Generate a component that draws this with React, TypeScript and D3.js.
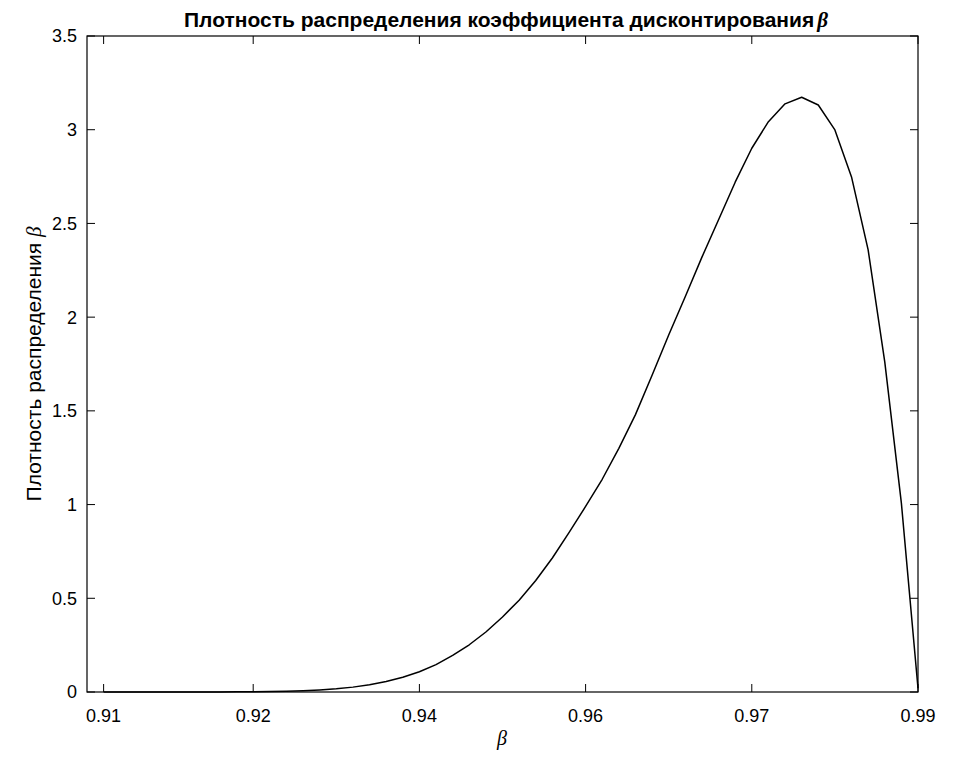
import React from "react";
import * as d3 from "d3";

const betaValues: number[] = [
  0.908333, 0.91, 0.911667, 0.913333, 0.915, 0.916667, 0.918333, 0.92, 0.921667, 0.923333,
  0.925, 0.926667, 0.928333, 0.93, 0.931667, 0.933333, 0.935, 0.936667, 0.938333, 0.94,
  0.941667, 0.943333, 0.945, 0.946667, 0.948333, 0.95, 0.951667, 0.953333, 0.955, 0.956667,
  0.958333, 0.96, 0.961667, 0.963333, 0.965, 0.966667, 0.968333, 0.97, 0.971667, 0.973333,
  0.975, 0.976667, 0.978333, 0.98, 0.981667, 0.983333, 0.985, 0.986667, 0.988333, 0.99,
];

const densityValues: number[] = [
  0.0, 0.0, 0.0, 0.0001, 0.0001, 0.0001, 0.0002, 0.0004, 0.0008, 0.0014,
  0.0025, 0.0042, 0.0068, 0.011, 0.017, 0.026, 0.039, 0.056, 0.079, 0.108,
  0.146, 0.195, 0.252, 0.32, 0.4, 0.49, 0.595, 0.715, 0.85, 0.99,
  1.135, 1.3, 1.48, 1.69, 1.905, 2.11, 2.32, 2.52, 2.72, 2.901,
  3.043, 3.138, 3.173, 3.132, 2.999, 2.748, 2.359, 1.761, 1.008, 0.02,
];

const xTickValues: number[] = [0.908333, 0.923333, 0.94, 0.956667, 0.973333, 0.99];
const yTickValues: number[] = [0, 0.5, 1, 1.5, 2, 2.5, 3, 3.5];
const xDomain: [number, number] = [0.906667, 0.99];
const yDomain: [number, number] = [0, 3.5];

const titleText = "Плотность распределения коэффициента дисконтирования";
const yLabelText = "Плотность распределения ";
const greekBeta = "β";

const W = 954;
const H = 757;
const M = { left: 87, right: 36, top: 36, bottom: 65 };

export default function App() {
  const x = d3.scaleLinear().domain(xDomain).range([M.left, W - M.right]);
  const y = d3.scaleLinear().domain(yDomain).range([H - M.bottom, M.top]);
  const line = d3
    .line<number>()
    .x((_, i) => x(betaValues[i]))
    .y((d) => y(d));
  const fmtX = d3.format(".2f");
  const fmtY = (v: number) => String(v);
  const x0 = M.left, x1 = W - M.right, y0 = H - M.bottom, y1 = M.top;
  const tl = 8;
  const sans = "'Liberation Sans', Arial, Helvetica, sans-serif";
  const serif = "'Liberation Serif', 'Times New Roman', serif";

  return (
    <svg
      width={W}
      height={H}
      style={{ position: "absolute", left: 0, top: 0, background: "#fff" }}
    >
      <rect x={0} y={0} width={W} height={H} fill="#fff" />
      <path d={line(densityValues) || ""} fill="none" stroke="#000" strokeWidth={1.5} strokeLinejoin="round" />
      <rect x={x0} y={y1} width={x1 - x0} height={y0 - y1} fill="none" stroke="#000" strokeWidth={1.2} />
      {xTickValues.map((t, i) => (
        <g key={"xt" + i}>
          <line x1={x(t)} x2={x(t)} y1={y0} y2={y0 - tl} stroke="#000" strokeWidth={1} />
          <line x1={x(t)} x2={x(t)} y1={y1} y2={y1 + tl} stroke="#000" strokeWidth={1} />
          <text x={x(t)} y={y0 + 30} textAnchor="middle" fontFamily={sans} fontSize={18} fill="#000">
            {fmtX(t)}
          </text>
        </g>
      ))}
      {yTickValues.map((t, i) => (
        <g key={"yt" + i}>
          <line x1={x0} x2={x0 + tl} y1={y(t)} y2={y(t)} stroke="#000" strokeWidth={1} />
          <line x1={x1} x2={x1 - tl} y1={y(t)} y2={y(t)} stroke="#000" strokeWidth={1} />
          <text x={x0 - 10} y={y(t) + 6.4} textAnchor="end" fontFamily={sans} fontSize={18} fill="#000">
            {fmtY(t)}
          </text>
        </g>
      ))}
      <text x={506} y={27} textAnchor="middle" fontFamily={sans} fontSize={21} fontWeight="bold" fill="#000">
        {titleText}
        <tspan fontFamily={serif} fontStyle="italic" dx={3}>{greekBeta}</tspan>
      </text>
      <text
        transform={`translate(41, ${(y0 + y1) / 2}) rotate(-90)`}
        textAnchor="middle"
        fontFamily={sans}
        fontSize={21}
        fill="#000"
      >
        {yLabelText}
        <tspan fontFamily={serif} fontStyle="italic">{greekBeta}</tspan>
      </text>
      <text x={502} y={745} textAnchor="middle" fontFamily={serif} fontStyle="italic" fontSize={20} fill="#000">
        {greekBeta}
      </text>
    </svg>
  );
}
